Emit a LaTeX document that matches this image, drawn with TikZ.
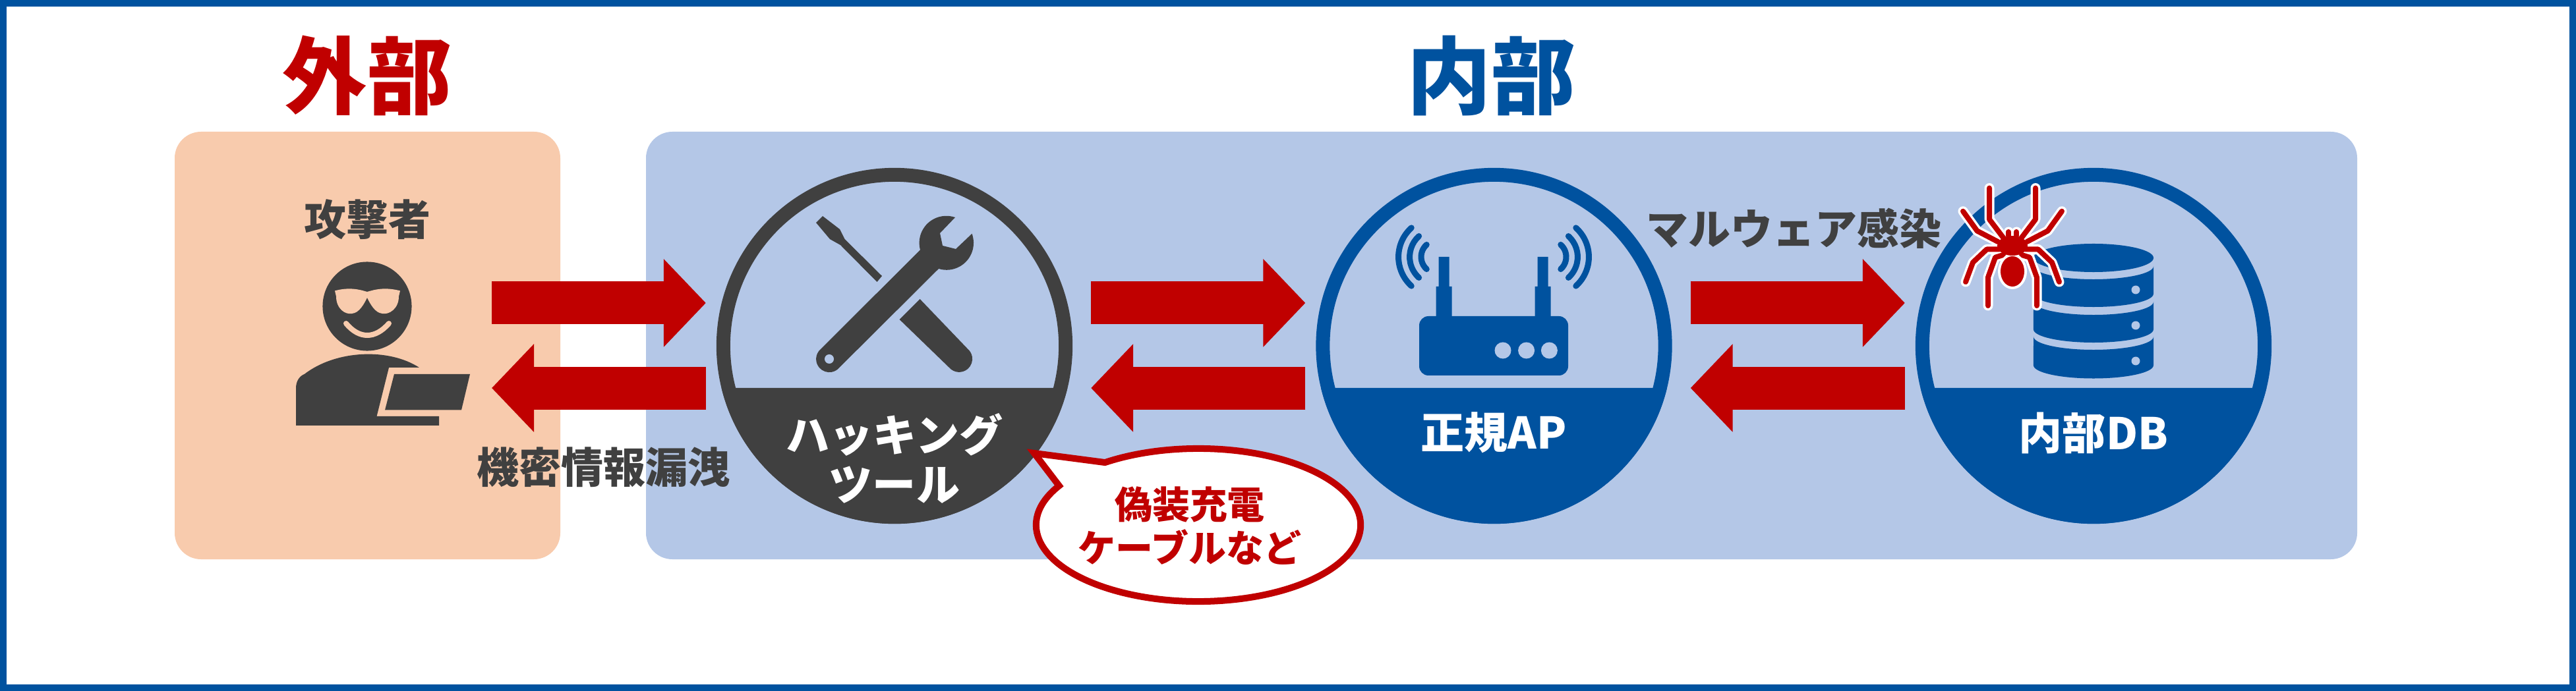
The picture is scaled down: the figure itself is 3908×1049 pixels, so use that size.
\documentclass[tikz,border=0pt]{standalone}
\usepackage{fontspec}
\setmainfont{Noto Sans CJK JP}
\usepackage{xcolor}
\usepackage{tikz}
\usetikzlibrary{arrows.meta,shapes.callouts}
\definecolor{framblue}{HTML}{00529F}
\definecolor{darkred}{HTML}{C00000}
\definecolor{darkgray}{HTML}{404040}
\definecolor{peach}{HTML}{F8CBAD}
\definecolor{paleblue}{HTML}{B4C7E7}

\begin{document}
\begin{tikzpicture}[x=0.01cm,y=-0.01cm,
    ring/.style={circle,draw,line width=.21cm,minimum size=5.19cm,inner sep=0pt},
    bigarrow/.style={darkred,line width=.65cm,-{Triangle[length=.64cm,width=1.3cm]}},
    fwd/.style={bigarrow,shorten <=.28cm,shorten >=.16cm},
    back/.style={bigarrow,shorten <=.16cm,shorten >=.28cm},
    title/.style={font=\bfseries\fontsize{36.4}{40}\selectfont},
    darktext/.style={text=darkgray,font=\bfseries\fontsize{18.2}{21}\selectfont},
    bandtext/.style={text=white,align=center,font=\bfseries\fontsize{18.8}{21.3}\selectfont},
    wave/.style={framblue,line width=.09cm,line cap=round}]
    \useasboundingbox (0,0) rectangle (3908,1049);
    \fill[white] (0,0) rectangle (3908,1049);
    \draw[framblue,line width=.1cm] (5,5) rectangle (3903,1044);
    \fill[peach,rounded corners=.4cm] (265,200) rectangle (850,849);
    \fill[paleblue,rounded corners=.4cm] (980,200) rectangle (3576,849);
    \node[title,text=darkred] (outside) at (557,115) {外部};
    \node[title,text=framblue] (inside) at (2262,115) {内部};
    \node[darktext] (who) at (557,333) {攻撃者};
    \coordinate (attacker) at (718,525);
    \node[ring,draw=darkgray] (tool) at (1357,525) {};
    \node[ring,draw=framblue] (ap) at (2266.5,525) {};
    \node[ring,draw=framblue] (db) at (3176,525) {};
    \foreach \nm/\col in {tool/darkgray,ap/framblue,db/framblue}
        \fill[\col] (\nm.center) ++(-13.7:2.7cm) arc[start angle=-13.7,end angle=-166.3,radius=2.7cm] -- cycle;
    \draw[fwd] ([yshift=.65cm]attacker) -- ([yshift=.65cm]tool.west);
    \draw[back] ([yshift=-.64cm]tool.west) -- ([yshift=-.64cm]attacker);
    \draw[fwd] ([yshift=.65cm]tool.east) -- ([yshift=.65cm]ap.west);
    \draw[back] ([yshift=-.64cm]ap.west) -- ([yshift=-.64cm]tool.east);
    \draw[fwd] ([yshift=.65cm]ap.east) -- ([yshift=.65cm]db.west);
    \draw[back] ([yshift=-.64cm]db.west) -- ([yshift=-.64cm]ap.east);
    \node[darktext] (leak) at (915,709) {機密情報漏洩};
    \node[darktext] (malware) at (2721,347) {マルウェア感染};
    \node[bandtext] (toollabel) at (1357,696) {ハッキング\\ツール};
    \node[bandtext] (aplabel) at (2266,657) {正規AP};
    \node[bandtext] (dblabel) at (3176,657) {内部DB};
    % attacker
    \fill[darkgray] (557,465) circle (.675cm);
    \fill[peach] (508,441.4) .. controls (530,435.5) and (545,439.4) .. (557,443) .. controls (569,439.4) and (584,435.5) .. (607,441.4)
        -- (605,450) .. controls (605,469) and (590,478) .. (580,476) .. controls (569,475) and (562,462) .. (557,452)
        .. controls (552,462) and (545,475) .. (534,476) .. controls (524,478) and (510,469) .. (510,450) -- cycle;
    \draw[peach,line width=.08cm,line cap=round] (525,491) .. controls (545,515) and (569,515) .. (590,491);
    \fill[darkgray] (449,645.8) -- (449,589.5) .. controls (449,577.6) and (455,570.7) .. (462,567.8)
        .. controls (510,531) and (590,528) .. (636,558) -- (590,558) -- (571.5,632) -- (666,632) -- (666,645.8) -- cycle;
    \fill[darkgray] (598,568) -- (713,568) -- (700,622.5) -- (584,622.5) -- cycle;
    % tools
    \fill[darkgray] (1248,328) -- (1238,338) -- (1259,363) -- (1275,372) -- (1330.5,428) -- (1338,419) -- (1281.5,363) -- (1274,348) -- cycle;
    \fill[darkgray] (1449,330) arc[start angle=71,end angle=195,radius=.41cm] -- (1245,530)
        arc[start angle=131,end angle=321,radius=.2cm] -- (1424,408)
        arc[start angle=253,end angle=380,radius=.41cm] -- (1450,378) -- (1430,373) -- (1426,354) -- cycle;
    \fill[paleblue] (1258,545) circle (.07cm);
    \fill[darkgray] (1395.6,454) -- (1364.6,485) -- (1440,558) arc[start angle=221,end angle=410,radius=.2cm] -- cycle;
    % router
    \fill[framblue,rounded corners=.14cm] (2153,480) rectangle (2379,570);
    \foreach \ax in {2190.6,2340.6} {
        \fill[framblue] ({\ax-12},490) -- ({\ax-12},435) -- ({\ax-8},435) -- ({\ax-8},390) -- ({\ax+8},390) -- ({\ax+8},435) -- ({\ax+12},435) -- ({\ax+12},490) -- cycle;
    }
    \foreach \dx in {2280,2315.6,2350.4}
        \fill[paleblue] (\dx,532) circle (.125cm);
    \foreach \r in {.594,.424,.25} {
        \draw[wave] (2181,390) ++(132:\r cm) arc[start angle=132,end angle=228,radius=\r cm];
        \draw[wave] (2351,390) ++(48:\r cm) arc[start angle=48,end angle=-48,radius=\r cm];
    }
    % database
    \fill[framblue] (3176,391.5) ellipse (.91cm and .215cm);
    \foreach \ytop/\ybot in {404/446,458/500,511/554.5} {
        \fill[framblue] (3085,\ytop) arc[start angle=180,end angle=360,x radius=.91cm,y radius=.2cm]
            -- (3267,\ybot) arc[start angle=0,end angle=-180,x radius=.91cm,y radius=.2cm] -- cycle;
    }
    \foreach \dy in {440,494,548}
        \fill[paleblue] (3240,\dy) circle (.065cm);
    % spider
    \foreach \col/\wd in {white/.15cm,darkred/.08cm} {
        \foreach \s in {-1,1} {
            \draw[\col,line width=\wd,line cap=round,line join=round]
                ({3053+\s*35},285.5) -- ({3053+\s*35},333) -- ({3053+\s*13},362);
            \draw[\col,line width=\wd,line cap=round,line join=round]
                ({3053+\s*75},320.7) -- ({3053+\s*53.6},350.5) -- ({3053+\s*22},367);
            \draw[\col,line width=\wd,line cap=round,line join=round]
                ({3053+\s*71},428) -- ({3053+\s*60},398.4) -- ({3053+\s*39},378.5) -- ({3053+\s*20},378.5);
            \draw[\col,line width=\wd,line cap=round,line join=round]
                ({3053+\s*37},464) -- ({3053+\s*37},421) -- ({3053+\s*26},390.7) -- ({3053+\s*14},387);
            \draw[\col,line width=\wd,line cap=round] ({3053+\s*6},358) -- ({3053+\s*6},352);
        }
    }
    \fill[white] (3053,412) ellipse (.22cm and .27cm);
    \fill[darkred] (3053,373) ellipse (.23cm and .15cm);
    \fill[darkred] (3053,412) ellipse (.18cm and .23cm);
    % balloon
    \node[ellipse callout,draw=darkred,fill=white,line width=.1cm,inner sep=0pt,
        minimum width=4.92cm,minimum height=2.32cm,callout absolute pointer={(1569,688)},callout pointer arc=24] (balloon) at (1818,797) {};
    \node[text=darkred,align=center,font=\bfseries\fontsize{16.2}{18.8}\selectfont] (fake) at (1805,798) {偽装充電\\ケーブルなど};
\end{tikzpicture}
\end{document}
